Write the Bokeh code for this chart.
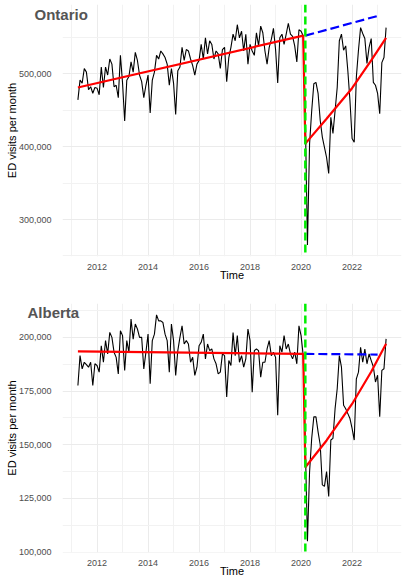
from bokeh.plotting import figure
from bokeh.layouts import column
from bokeh.models import Range1d, FixedTicker, NumeralTickFormatter, Span
from bokeh.embed import file_html
from bokeh.resources import INLINE

# ---------------- data (ED visits per month, thousands) ----------------
START = 2011 + 3 / 12          # April 2011, monthly series
INTERVENTION = 2020 + 2 / 12   # March 2020

ontario_pre = [464, 491, 487, 507, 502, 478, 482, 473, 481, 480, 471, 509,
               481, 509, 498, 520, 513, 482, 484, 467, 525, 487, 435, 491,
               496, 516, 502, 529, 518, 498, 489, 467, 484, 498, 446, 491,
               502, 525, 520, 531, 527, 522, 513, 484, 507, 487, 444, 504,
               509, 536, 518, 533, 531, 520, 511, 498, 513, 518, 540, 520,
               549, 527, 545, 540, 520, 531, 527, 507, 533, 536, 489, 522,
               536, 554, 545, 567, 549, 558, 531, 554, 513, 540, 531, 525,
               556, 538, 565, 556, 531, 513, 536, 547, 562, 533, 487, 549,
               554, 540, 554, 569, 554, 551, 538, 516, 560, 558, 552]
ontario_post = [440, 265, 404, 449, 486, 488, 473, 436, 413, 399,
                385, 363, 440, 418, 449, 481, 545, 554, 532, 538, 504, 463,
                411, 406, 495, 532, 563, 555, 548, 514, 536, 548, 488, 484,
                473, 445, 515, 522, 563]
ontario_fit_t = [2011.25, 2020.083, 2020.167, 2021.0, 2022.0, 2022.75, 2023.333]
ontario_fit_v = [481, 552, 404, 438, 480, 518, 549]
ontario_cf_t = [2020.167, 2023.0]
ontario_cf_v = [552, 579]

alberta_pre = [177.6, 191.5, 185.3, 188.4, 187.3, 186.1, 188.4, 177.6, 187.7, 186.9, 183.8, 196.1,
               188.4, 198.5, 192.3, 202.3, 200.0, 193.1, 190.7, 183.0, 203.1, 200.8, 184.6, 198.5,
               193.1, 208.5, 199.2, 206.2, 203.9, 200.0, 200.0, 185.3, 193.1, 201.5, 178.4, 198.5,
               201.5, 210.5, 207.7, 207.7, 206.9, 201.5, 198.5, 183.8, 206.2, 198.5, 182.3, 193.8,
               200.0, 205.4, 196.9, 198.5, 196.9, 188.4, 190.7, 182.3, 186.1, 196.1, 197.7, 201.5,
               190.0, 196.9, 193.8, 194.6, 190.0, 187.7, 183.0, 183.8, 192.3, 191.5, 172.2, 189.2,
               186.9, 202.3, 191.5, 200.8, 188.4, 191.5, 186.1, 190.0, 203.9, 198.5, 174.5, 193.8,
               194.6, 193.8, 181.5, 188.4, 188.4, 194.6, 198.5, 191.5, 193.1, 190.7, 163.7, 196.1,
               193.1, 200.8, 194.6, 196.9, 192.3, 190.0, 193.1, 187.7, 205.4, 200.8, 191.5]
alberta_post = [150, 105.1, 137.5, 153, 163, 163, 156, 150, 131.3, 130.6,
                137.5, 125.9, 152.2, 153, 166.8, 176.1, 191.5, 186.1, 168.4, 166.8, 164.5, 162.2,
                157.6, 152.2, 180.7, 183.8, 195.4, 188.4, 194.6, 187.7, 192.3, 189.2, 186.3, 179.2,
                182.4, 163, 184.6, 185.4, 199.3]
alberta_fit_t = [2011.25, 2020.083, 2020.167, 2021.0, 2022.0, 2022.75, 2023.333]
alberta_fit_v = [193.5, 192.3, 139.5, 152, 169, 184, 197]
alberta_cf_t = [2020.167, 2023.0]
alberta_cf_v = [192.3, 192.0]

x_ticks = [2012, 2014, 2016, 2018, 2020, 2022]
x_minor = [2011, 2013, 2015, 2017, 2019, 2021, 2023]
ontario_yticks = [300000, 400000, 500000]
ontario_yminor = [250000, 350000, 450000, 550000]
alberta_yticks = [100000, 125000, 150000, 175000, 200000]
alberta_yminor = [112500, 137500, 162500, 187500, 212500]

FONT = "Liberation Sans"


def panel(name, pre, post, fit_t, fit_v, cf_t, cf_v, yticks, yminor,
          height, left, right, top, bottom, title_offset, title_standoff):
    vals = [v * 1000 for v in pre + post]
    times = [START + i / 12 for i in range(len(vals))]
    cfv = [v * 1000 for v in cf_v]
    fitv = [v * 1000 for v in fit_v]
    lo = min(vals + cfv + fitv)
    hi = max(vals + cfv + fitv)
    pad = 0.05 * (hi - lo)
    xpad = 0.05 * (times[-1] - times[0])
    p = figure(width=418, height=height, output_backend="svg", toolbar_location=None,
               x_range=Range1d(times[0] - xpad, times[-1] + xpad),
               y_range=Range1d(lo - pad, hi + pad),
               min_border_left=left, min_border_right=right,
               min_border_top=top, min_border_bottom=bottom)
    p.outline_line_color = None
    p.background_fill_color = "white"
    p.border_fill_color = "white"

    # title drawn over the top-left corner of the panel
    p.title.text = name
    p.title.align = "left"
    p.title.offset = title_offset
    p.title.standoff = title_standoff
    p.title.vertical_align = "bottom"
    p.title.text_font = FONT
    p.title.text_font_size = "15px"
    p.title.text_font_style = "bold"
    p.title.text_color = "#555555"

    p.xaxis.ticker = FixedTicker(ticks=x_ticks, minor_ticks=x_minor)
    p.yaxis.ticker = FixedTicker(ticks=yticks, minor_ticks=yminor)
    p.yaxis.formatter = NumeralTickFormatter(format="0,0")
    for ax in (p.xaxis, p.yaxis):
        ax.axis_line_color = None
        ax.major_tick_line_color = None
        ax.minor_tick_line_color = None
        ax.major_label_text_font = FONT
        ax.major_label_text_font_size = "9px"
        ax.major_label_text_color = "#4D4D4D"
        ax.axis_label_text_font = FONT
        ax.axis_label_text_font_size = "11px"
        ax.axis_label_text_font_style = "normal"
        ax.axis_label_text_color = "#000000"
    p.xaxis.axis_label = "Time"
    p.yaxis.axis_label = "ED visits per month"
    p.xaxis.major_label_standoff = 1
    p.xaxis.axis_label_standoff = -4
    p.yaxis.major_label_standoff = 5
    p.yaxis.axis_label_standoff = -2
    for g in (p.xgrid, p.ygrid):
        g.grid_line_color = "#EBEBEB"
        g.grid_line_width = 1
        g.minor_grid_line_color = "#F2F2F2"
        g.minor_grid_line_width = 1

    p.line(times, vals, line_color="black", line_width=1.1)
    p.add_layout(Span(location=INTERVENTION, dimension="height", line_color="#00EE00",
                      line_width=2.5, line_dash="8 4"))
    p.line(fit_t, fitv, line_color="#FF0000", line_width=2.2)
    p.line(cf_t, cfv, line_color="#0000FF", line_width=2.2, line_dash="9 4")
    return p


p1 = panel("Ontario", ontario_pre, ontario_post, ontario_fit_t, ontario_fit_v,
           ontario_cf_t, ontario_cf_v, ontario_yticks, ontario_yminor,
           290, 62, 14, 4, 34, -28, -36)
p2 = panel("Alberta", alberta_pre, alberta_post, alberta_fit_t, alberta_fit_v,
           alberta_cf_t, alberta_cf_v, alberta_yticks, alberta_yminor,
           289, 58, 17, 13, 26, -35, -34)

layout = column(p1, p2, spacing=0)
open("out.html", "w").write(file_html(layout, INLINE))
